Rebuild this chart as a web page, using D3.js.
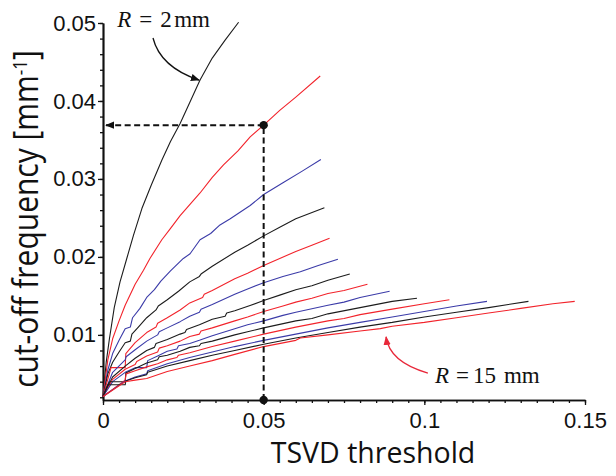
<!DOCTYPE html>
<html><head><meta charset="utf-8">
<script src="https://cdn.jsdelivr.net/npm/d3@7"></script>
<style>body{margin:0;background:#fff}svg{display:block}</style>
</head><body><svg id="c" width="616" height="476"></svg>
<script>
// ---- data (TSVD threshold, cut-off frequency [mm^-1]) ----
const radii = [2,3,4,5,6,7,8,9,10,11,12,13,14,15];
const curveR2 = [[0,0.0021],[0.001,0.0065],[0.002,0.0095],[0.0035,0.0135],[0.0053,0.0168],[0.0074,0.0198],[0.0095,0.0228],[0.0121,0.0262],[0.015,0.0292],[0.0183,0.0324],[0.021,0.0348],[0.024,0.0371],[0.027,0.0398],[0.0302,0.0427],[0.034,0.0455],[0.038,0.0478],[0.0422,0.0501]];
const curveR3 = [[0,0.0021],[0.0015,0.0068],[0.003,0.0095],[0.005,0.0118],[0.0069,0.0138],[0.0100,0.0165],[0.0126,0.0183],[0.0146,0.0198],[0.0183,0.0222],[0.0209,0.0236],[0.024,0.0253],[0.0302,0.0282],[0.034,0.0302],[0.0375,0.0318],[0.042,0.0336],[0.0458,0.0354],[0.05,0.0369],[0.055,0.0388],[0.060,0.0405],[0.0676,0.0432]];
const curveR4 = [[0,0.0021],[0.0015,0.0055],[0.003,0.0076],[0.005,0.0093],[0.0069,0.0108],[0.0085,0.0110],[0.0092,0.0122],[0.0115,0.0134],[0.0136,0.0148],[0.016,0.0158],[0.018,0.0169],[0.021,0.0182],[0.025,0.0198],[0.0271,0.0204],[0.0302,0.0222],[0.0335,0.0230],[0.0364,0.0241],[0.0396,0.0249],[0.0458,0.0266],[0.05,0.0280],[0.056,0.0295],[0.062,0.0310],[0.0678,0.0325]];
const curveR5 = [[0,0.0021],[0.0015,0.0050],[0.003,0.0065],[0.005,0.0078],[0.0069,0.0090],[0.0085,0.0092],[0.009,0.0101],[0.011,0.0110],[0.0136,0.0122],[0.0165,0.0132],[0.0172,0.0137],[0.02,0.0145],[0.0235,0.0156],[0.027,0.0168],[0.030,0.0175],[0.0305,0.0178],[0.034,0.0188],[0.041,0.0206],[0.045,0.0215],[0.05,0.0227],[0.055,0.0238],[0.06,0.0249],[0.0689,0.0263]];
const curveR6 = [[0,0.0021],[0.0025,0.0058],[0.0069,0.0058],[0.0071,0.0076],[0.01,0.0090],[0.0136,0.0103],[0.0165,0.0110],[0.017,0.0115],[0.02,0.0122],[0.024,0.0132],[0.027,0.0141],[0.031,0.0148],[0.0315,0.0152],[0.034,0.0157],[0.041,0.0172],[0.045,0.0179],[0.05,0.0189],[0.055,0.0198],[0.06,0.0207],[0.065,0.0215],[0.0705,0.0224]];
const curveR7 = [[0,0.0021],[0.003,0.0052],[0.0069,0.0068],[0.0072,0.0072],[0.01,0.0081],[0.0136,0.0092],[0.017,0.0100],[0.0175,0.0104],[0.02,0.0109],[0.024,0.0117],[0.027,0.0124],[0.030,0.0129],[0.0305,0.0133],[0.034,0.0139],[0.041,0.0152],[0.045,0.0159],[0.05,0.0167],[0.056,0.0175],[0.0614,0.0181],[0.067,0.0189],[0.0731,0.0197]];
const curveR8 = [[0,0.0021],[0.003,0.0046],[0.0069,0.0060],[0.01,0.0070],[0.0136,0.0080],[0.016,0.0084],[0.0165,0.0089],[0.02,0.0094],[0.024,0.0101],[0.0255,0.0103],[0.026,0.0107],[0.030,0.0113],[0.034,0.0120],[0.038,0.0124],[0.0385,0.0128],[0.041,0.0131],[0.046,0.0138],[0.05,0.0144],[0.055,0.0151],[0.06,0.0158],[0.065,0.0163],[0.07,0.0170],[0.0768,0.0178]];
const curveR9 = [[0,0.0021],[0.003,0.0043],[0.0069,0.0056],[0.01,0.0062],[0.0105,0.0066],[0.0136,0.0073],[0.017,0.0078],[0.0175,0.0083],[0.02,0.0086],[0.024,0.0092],[0.027,0.0098],[0.030,0.0101],[0.0305,0.0105],[0.034,0.0109],[0.041,0.0118],[0.045,0.0123],[0.05,0.0130],[0.056,0.0137],[0.06,0.0142],[0.065,0.0147],[0.07,0.0153],[0.075,0.0157],[0.0823,0.0165]];
const curveR10 = [[0,0.0021],[0.003,0.0040],[0.0069,0.0052],[0.01,0.0058],[0.0136,0.0058],[0.0139,0.0067],[0.017,0.0073],[0.02,0.0079],[0.023,0.0082],[0.0235,0.0086],[0.027,0.0089],[0.030,0.0093],[0.034,0.0099],[0.041,0.0108],[0.045,0.0113],[0.05,0.0118],[0.056,0.0125],[0.06,0.0129],[0.07,0.0138],[0.075,0.0142],[0.08,0.0148],[0.0892,0.0156]];
const curveR11 = [[0,0.0021],[0.002,0.0040],[0.0069,0.0040],[0.0071,0.0051],[0.01,0.0057],[0.0136,0.0064],[0.017,0.0068],[0.0175,0.0072],[0.02,0.0074],[0.024,0.0079],[0.027,0.0084],[0.030,0.0086],[0.0305,0.0089],[0.034,0.0092],[0.041,0.0100],[0.045,0.0104],[0.05,0.0109],[0.06,0.0118],[0.065,0.0121],[0.07,0.0127],[0.08,0.0135],[0.09,0.0143],[0.0977,0.0147]];
const curveR12 = [[0,0.0021],[0.0069,0.0042],[0.0072,0.0050],[0.01,0.0054],[0.0136,0.0059],[0.017,0.0063],[0.02,0.0068],[0.023,0.0071],[0.0235,0.0074],[0.027,0.0077],[0.034,0.0085],[0.041,0.0092],[0.05,0.0101],[0.06,0.0110],[0.07,0.0118],[0.075,0.0121],[0.08,0.0126],[0.09,0.0133],[0.10,0.0140],[0.1078,0.0145]];
const curveR13 = [[0,0.0021],[0.0069,0.0041],[0.01,0.0046],[0.0136,0.0050],[0.0139,0.0054],[0.02,0.0063],[0.027,0.0071],[0.034,0.0078],[0.041,0.0085],[0.05,0.0093],[0.06,0.0101],[0.07,0.0109],[0.08,0.0116],[0.09,0.0123],[0.10,0.0130],[0.11,0.0137],[0.1195,0.0143]];
const curveR14 = [[0,0.0021],[0.0015,0.0036],[0.0069,0.0036],[0.0071,0.0041],[0.01,0.0045],[0.0136,0.0049],[0.0139,0.0052],[0.02,0.0060],[0.027,0.0067],[0.034,0.0074],[0.041,0.0080],[0.05,0.0088],[0.06,0.0096],[0.07,0.0103],[0.08,0.0110],[0.09,0.0116],[0.10,0.0123],[0.11,0.0129],[0.12,0.0135],[0.1324,0.0143]];
const curveR15 = [[0,0.0021],[0.0069,0.0040],[0.01,0.0042],[0.0136,0.0044],[0.02,0.0053],[0.027,0.0060],[0.034,0.0067],[0.041,0.0075],[0.05,0.0085],[0.06,0.0093],[0.0614,0.0096],[0.07,0.0100],[0.08,0.0105],[0.0863,0.0108],[0.09,0.0111],[0.10,0.0116],[0.11,0.0122],[0.12,0.0128],[0.13,0.0134],[0.14,0.0140],[0.1468,0.0143]];
const colorCycle = ["#1c1c1c", "#f2232b", "#3b3ba8"];   // black, red, blue
const xTicks = [0, 0.05, 0.1, 0.15];
const xTickLabels = ["0", "0.05", "0.1", "0.15"];
const yTicks = [0.01, 0.02, 0.03, 0.04, 0.05];
const yTickLabels = ["0.01", "0.02", "0.03", "0.04", "0.05"];
const xMinorTicks = d3.range(0, 0.1501, 0.005);
const yMinorTicks = d3.range(0.002, 0.0501, 0.002);
const markerThreshold = 0.05;
const markerFrequency = 0.0369;
const xTitle = "TSVD threshold";
const yTitle = "cut-off frequency [mm";

const curves = [curveR2,curveR3,curveR4,curveR5,curveR6,curveR7,curveR8,curveR9,curveR10,curveR11,curveR12,curveR13,curveR14,curveR15];

// ---- drawing ----
const svg = d3.select("#c");
const x = d3.scaleLinear().domain([0, 0.15]).range([103, 585]);
const y = d3.scaleLinear().domain([0.00165, 0.05]).range([400, 23]);

const defs = svg.append("defs");
function arrowMarker(id, color, size) {
  defs.append("marker").attr("id", id).attr("viewBox", "0 0 10 10")
    .attr("refX", 9).attr("refY", 5).attr("markerUnits", "userSpaceOnUse")
    .attr("markerWidth", size).attr("markerHeight", size).attr("orient", "auto")
    .append("path").attr("d", "M0,1 L10,5 L0,9 Z").attr("fill", color).attr("stroke", "none");
}
arrowMarker("ahBlack", "#111", 9);
arrowMarker("ahRed", "#e8283a", 9);
arrowMarker("ahDash", "#111", 9);

// axes
const tickFont = "'Liberation Sans', Arial, sans-serif";
const gx = svg.append("g").attr("transform", "translate(0,400)");
gx.call(d3.axisBottom(x).tickValues(xMinorTicks).tickSize(3).tickFormat("").tickSizeOuter(0));
const gx2 = svg.append("g").attr("transform", "translate(0,400)");
gx2.call(d3.axisBottom(x).tickValues(xTicks).tickSize(5).tickPadding(7)
  .tickFormat((d, i) => xTickLabels[i]).tickSizeOuter(0));
const gy = svg.append("g").attr("transform", "translate(103,0)");
gy.call(d3.axisLeft(y).tickValues(yMinorTicks).tickSize(3).tickFormat("").tickSizeOuter(0));
const gy2 = svg.append("g").attr("transform", "translate(103,0)");
gy2.call(d3.axisLeft(y).tickValues(yTicks).tickSize(5).tickPadding(2)
  .tickFormat((d, i) => yTickLabels[i]).tickSizeOuter(0));
svg.selectAll(".domain").attr("stroke", "#111").attr("stroke-width", 1.7);
svg.selectAll(".tick line").attr("stroke", "#111").attr("stroke-width", 1.3);
svg.selectAll(".tick text").attr("font-family", tickFont).attr("font-size", 22).attr("fill", "#111");

// curves
const line = d3.line().x(d => x(d[0])).y(d => y(d[1]));
svg.append("g").selectAll("path").data(curves).join("path")
  .attr("d", d => line(d))
  .attr("fill", "none")
  .attr("stroke", (d, i) => colorCycle[i % 3])
  .attr("stroke-width", 1.1)
  .attr("stroke-linejoin", "round");

// dashed guide lines
svg.append("line")
  .attr("x1", x(markerThreshold)).attr("y1", y(0.00165))
  .attr("x2", x(markerThreshold)).attr("y2", y(markerFrequency))
  .attr("stroke", "#111").attr("stroke-width", 2).attr("stroke-dasharray", "6,3.5");
svg.append("line")
  .attr("x1", x(markerThreshold)).attr("y1", y(markerFrequency))
  .attr("x2", x(0) + 3).attr("y2", y(markerFrequency))
  .attr("stroke", "#111").attr("stroke-width", 2).attr("stroke-dasharray", "6,3.5")
  .attr("marker-end", "url(#ahDash)");
svg.append("circle").attr("cx", x(markerThreshold)).attr("cy", y(markerFrequency)).attr("r", 4.2).attr("fill", "#111");
svg.append("circle").attr("cx", x(markerThreshold)).attr("cy", y(0.00165)).attr("r", 4.2).attr("fill", "#111");

// annotation arrows (in data units)
const arrowTop = [[0.01556, 0.04808], [0.01712, 0.04551], [0.02241, 0.04372], [0.02988, 0.04268]];
const arrowBottom = [[0.1011, 0.00511], [0.0924, 0.00614], [0.0887, 0.00781], [0.0881, 0.00975]];
function bez(p) {
  return `M${x(p[0][0])},${y(p[0][1])} C${x(p[1][0])},${y(p[1][1])} ${x(p[2][0])},${y(p[2][1])} ${x(p[3][0])},${y(p[3][1])}`;
}
svg.append("path").attr("d", bez(arrowTop)).attr("fill", "none").attr("stroke", "#111")
  .attr("stroke-width", 1.3).attr("marker-end", "url(#ahBlack)");
svg.append("path").attr("d", bez(arrowBottom)).attr("fill", "none").attr("stroke", "#e8283a")
  .attr("stroke-width", 1.3).attr("marker-end", "url(#ahRed)");

// R labels
const serif = "'Liberation Serif', 'Times New Roman', serif";
function rLabel(px, py, num, offs) {
  const t = svg.append("text").attr("font-family", serif).attr("font-size", 23).attr("fill", "#111")
    .attr("y", py);
  t.append("tspan").attr("x", px).attr("font-style", "italic").text("R");
  t.append("tspan").attr("x", px + offs[0]).text("=");
  t.append("tspan").attr("x", px + offs[1]).text(num);
  t.append("tspan").attr("x", px + offs[2]).text("mm");
}
rLabel(x(0.0044), y(0.0495), "2", [22, 43, 57]);
rLabel(x(0.1033), y(0.0038), "15", [21, 38, 69]);

// axis titles
const titleFont = "'Open Sans', 'Noto Sans', sans-serif";
svg.append("text").attr("x", 373).attr("y", 463).attr("text-anchor", "middle")
  .attr("font-family", titleFont).attr("font-size", 28.5).attr("fill", "#111").text(xTitle);
const yt = svg.append("text").attr("transform", "translate(38,219) rotate(-90) scale(1,1.15)")
  .attr("text-anchor", "middle").attr("font-family", titleFont).attr("font-size", 30).attr("fill", "#111");
yt.append("tspan").text(yTitle);
yt.append("tspan").attr("font-size", 17).attr("dy", -10).text("-1");
yt.append("tspan").attr("dy", 10).text("]");
</script>
</body></html>
